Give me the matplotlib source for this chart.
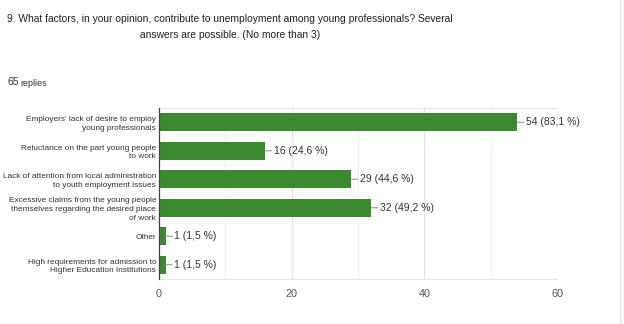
import matplotlib
matplotlib.use("Agg")
import matplotlib.pyplot as plt
from matplotlib import font_manager as fm
from matplotlib.lines import Line2D

categories = [
    "Employers' lack of desire to employ\nyoung professionals",
    "Reluctance on the part young people\nto work",
    "Lack of attention from local administration\nto youth employment issues",
    "Excessive claims from the young people\nthemselves regarding the desired place\nof work",
    "Other",
    "High requirements for admission to\nHigher Education Institutions",
]
counts = [54, 16, 29, 32, 1, 1]
percents = ["83,1", "24,6", "44,6", "49,2", "1,5", "1,5"]
xticks = [0, 20, 40, 60]
minor_ticks = [10, 30, 50]

names = {f.name for f in fm.fontManager.ttflist}
base = "Liberation Sans" if "Liberation Sans" in names else "DejaVu Sans"
plt.rcParams["font.family"] = base

green = "#3b8a2f"
txt = "#333333"

fig = plt.figure(figsize=(6.24, 3.24), dpi=100)
ax = fig.add_axes([159 / 624, 1 - 279 / 324, (557 - 159) / 624, (279 - 108) / 324])

y = list(range(len(categories)))
ax.barh(y, counts, height=0.62, color=green, zorder=3)
ax.set_ylim(len(categories) - 0.5, -0.5)
ax.set_xlim(0, 60)

for yi, c, p in zip(y, counts, percents):
    ax.annotate("", xy=(c, yi), xytext=(c + 1.0, yi),
                arrowprops=dict(arrowstyle="-", color="#999999", lw=0.8,
                                shrinkA=0, shrinkB=0))
    ax.text(c + 1.3, yi, f"{c} ({p} %)", va="center", ha="left",
            fontsize=7.5, color=txt)

ax.set_yticks(y)
ax.set_yticklabels(categories, fontsize=5.95, color=txt, linespacing=1.35)
ax.set_xticks(xticks)
ax.set_xticklabels([str(t) for t in xticks], fontsize=7.8, color="#555555")
ax.tick_params(axis="both", length=0)
ax.tick_params(axis="x", pad=7)
ax.tick_params(axis="y", pad=2)

for t in xticks[1:]:
    ax.axvline(t, color="#e2e2e2", lw=0.8, zorder=1)
for t in minor_ticks:
    ax.axvline(t, color="#f0f0f0", lw=0.8, zorder=1)

for s in ["top", "bottom"]:
    ax.spines[s].set_color("#e6e6e6")
    ax.spines[s].set_linewidth(0.8)
ax.spines["right"].set_visible(False)
ax.spines["left"].set_color("#444444")
ax.spines["left"].set_linewidth(0.9)
ax.spines["left"].set_zorder(4)

fig.text(230 / 624, 1 - 26.5 / 324,
         "9. What factors, in your opinion, contribute to unemployment among young professionals? Several\nanswers are possible. (No more than 3)",
         ha="center", va="center", fontsize=7.4, color="#222222",
         linespacing=1.75)

fig.text(8 / 624, 1 - 82 / 324, "65", ha="left", va="center", fontsize=7.5, color="#333333")
fig.text(20 / 624, 1 - 83 / 324, "replies", ha="left", va="center", fontsize=6.5, color="#333333")

fig.add_artist(Line2D([620 / 624, 620 / 624], [0, 1], transform=fig.transFigure,
                      color="#e8e8e8", lw=1))

fig.savefig("out.png", dpi=100, facecolor="white")
